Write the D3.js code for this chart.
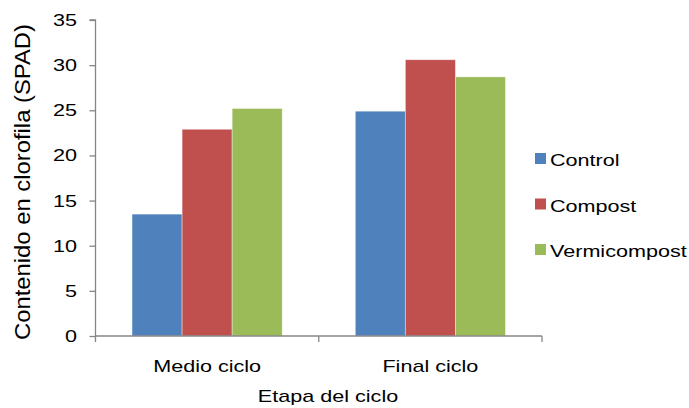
<!DOCTYPE html>
<html><head><meta charset="utf-8">
<script src="https://cdn.jsdelivr.net/npm/d3@7"></script>
<style>body{margin:0;background:#fff}svg{display:block}text{font-family:"Liberation Sans",Arial,sans-serif;fill:#000}</style>
</head><body><svg id="c" width="689" height="408"></svg>
<script>
const categories = ["Medio ciclo", "Final ciclo"];
const seriesNames = ["Control", "Compost", "Vermicompost"];
const control = [13.5, 24.9];
const compost = [22.9, 30.6];
const vermicompost = [25.2, 28.7];
const yTicks = [0, 5, 10, 15, 20, 25, 30, 35];
const colors = ["#4F81BD", "#C0504D", "#9BBB59"];
const seriesValues = [control, compost, vermicompost];

const svg = d3.select("#c");
const pLeft = 95.5, pRight = 542, pTop = 20, pBottom = 336;
const FS = 17, SX = 1.27;
const x = d3.scaleBand().domain(categories).range([pLeft, pRight]).paddingInner(0).paddingOuter(0);
const xs = d3.scaleBand().domain(seriesNames).range([0, x.bandwidth()]).paddingInner(0).paddingOuter(0.73);
const y = d3.scaleLinear().domain([0, 35]).range([pBottom, pTop]);

function label(g, tx, ty, txt, anchor) {
  return g.append("text").attr("transform", `translate(${tx},${ty}) scale(${SX},1)`)
    .attr("text-anchor", anchor || "start").attr("font-size", FS).text(txt);
}

// bars
categories.forEach((c, ci) => {
  seriesNames.forEach((s, si) => {
    const v = seriesValues[si][ci];
    svg.append("rect")
      .attr("x", x(c) + xs(s)).attr("y", y(v))
      .attr("width", xs.bandwidth()).attr("height", y(0) - y(v))
      .attr("fill", colors[si]).attr("stroke", "rgba(255,255,255,0.5)").attr("stroke-width", 0.8);
  });
});

// y axis
const yAxis = d3.axisLeft(y).tickValues(yTicks).tickSize(6).tickFormat("");
const gy = svg.append("g").attr("transform", `translate(${pLeft},0)`).call(yAxis);
gy.select(".domain").attr("stroke", "#868686").attr("stroke-width", 1.3).attr("d", `M-6,${pTop}H0V${pBottom}`);
gy.selectAll(".tick line").attr("stroke", "#868686").attr("stroke-width", 1.3);
yTicks.forEach(t => label(svg, 77, y(t) + 6, String(t), "end"));

// x axis
const xAxis = d3.axisBottom(x).tickSize(0).tickFormat("");
const gx = svg.append("g").attr("transform", `translate(0,${pBottom})`).call(xAxis);
gx.select(".domain").attr("stroke", "#868686").attr("stroke-width", 1.3).attr("d", `M${pLeft},0H${pRight}`);
categories.forEach(c => label(svg, x(c) + x.bandwidth() / 2, 372, c, "middle"));
const bounds = [pLeft, x(categories[1]), pRight];
svg.selectAll("line.xt").data(bounds).enter().append("line")
  .attr("x1", d => d).attr("x2", d => d).attr("y1", pBottom).attr("y2", pBottom + 6)
  .attr("stroke", "#868686").attr("stroke-width", 1.3);

// axis titles
label(svg, 328, 402, "Etapa del ciclo", "middle");
svg.append("text").attr("transform", `translate(30,182) rotate(-90)`).attr("text-anchor", "middle")
  .attr("font-size", 21.5).attr("textLength", 316).attr("lengthAdjust", "spacingAndGlyphs")
  .text("Contenido en clorofila (SPAD)");

// legend
seriesNames.forEach((s, i) => {
  const yy = 158.5 + i * 45.5;
  svg.append("rect").attr("x", 535).attr("y", yy - 5.5).attr("width", 11).attr("height", 11).attr("fill", colors[i]);
  label(svg, 550, yy + 7.5, s, "start");
});
</script></body></html>
